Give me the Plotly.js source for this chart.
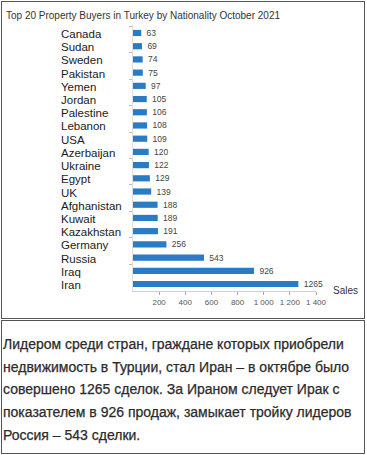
<!DOCTYPE html>
<html>
<head>
<meta charset="utf-8">
<script src="https://cdn.plot.ly/plotly-3.0.1.min.js"></script>
<style>
  html, body { margin: 0; padding: 0; background: #fff; width: 367px; height: 455px; overflow: hidden; }
  #box1 { position: absolute; left: 1px; top: 1px; width: 364px; height: 318px; box-sizing: border-box; border: 1px solid #555; }
  #chart { position: absolute; left: 0; top: 0; width: 362px; height: 316px; }
  #box2 { position: absolute; left: 1px; top: 320px; width: 364px; height: 134px; box-sizing: border-box; border: 1px solid #555;
          font-family: "Liberation Sans", Arial, sans-serif; font-size: 14px; line-height: 22.7px; color: #2b2b2b;
          -webkit-text-stroke: 0.25px #2b2b2b;
          padding: 12px 0 0 1px; }
</style>
</head>
<body>
<div id="box1"><div id="chart"></div></div>
<div id="box2">Лидером среди стран, граждане которых приобрели недвижимость в Турции, стал Иран – в октябре было совершено 1265 сделок. За Ираном следует Ирак с показателем в 926 продаж, замыкает тройку лидеров Россия – 543 сделки.</div>
<script>
const countries = ["Canada","Sudan","Sweden","Pakistan","Yemen","Jordan","Palestine","Lebanon","USA","Azerbaijan","Ukraine","Egypt","UK","Afghanistan","Kuwait","Kazakhstan","Germany","Russia","Iraq","Iran"];
const sales = [63,69,74,75,97,105,106,108,109,120,122,129,139,188,189,191,256,543,926,1265];
const tickValues = [200,400,600,800,1000,1200,1400];
const tickLabels = ["200","400","600","800","1 000","1 200","1 400"];
const chartTitle = "Top 20 Property Buyers in Turkey by Nationality October 2021";
const axisTitle = "Sales";

const W = 362, H = 316;
const mL = 130.8, mR = 48, mT = 21.8, mB = 27;
const plotW = W - mL - mR, plotH = H - mT - mB;

const trace = {
  type: 'bar', orientation: 'h',
  x: sales, y: countries,
  marker: { color: '#2a7bc6' },
  width: 0.47,
  text: sales.map(v => ' ' + v),
  textposition: 'outside',
  constraintext: 'none',
  textfont: { family: 'Liberation Sans, Arial, sans-serif', size: 8.5, color: '#444' },
  cliponaxis: false,
  hoverinfo: 'none'
};

const annotations = countries.map(c => ({
  xref: 'paper', yref: 'y', x: (57 - mL) / plotW, y: c,
  xanchor: 'left', yanchor: 'middle', yshift: -1,
  text: c, showarrow: false,
  font: { family: 'Liberation Sans, Arial, sans-serif', size: 11.5, color: '#1a1a1a' }
}));
annotations.push({
  xref: 'paper', yref: 'paper', x: (329 - mL) / plotW, y: (mT + plotH - 288) / plotH,
  xanchor: 'left', yanchor: 'middle', text: axisTitle, showarrow: false,
  font: { family: 'Liberation Sans, Arial, sans-serif', size: 10, color: '#333' }
});

const layout = {
  width: W, height: H,
  margin: { l: mL, r: mR, t: mT, b: mB, pad: 0 },
  paper_bgcolor: '#fff', plot_bgcolor: '#fff',
  showlegend: false,
  title: {
    text: chartTitle, xref: 'container', yref: 'container',
    x: 4 / W, xanchor: 'left', y: 1 - 13 / H, yanchor: 'middle',
    font: { family: 'Liberation Sans, Arial, sans-serif', size: 10, color: '#333' }
  },
  xaxis: {
    range: [0, 1400], tickvals: tickValues, ticktext: tickLabels,
    showgrid: false, zeroline: false,
    showline: true, linecolor: '#d0d0d0', linewidth: 1,
    ticks: 'outside', ticklen: 3, tickcolor: '#aaa',
    tickfont: { family: 'Liberation Sans, Arial, sans-serif', size: 8, color: '#555' },
    fixedrange: true
  },
  yaxis: {
    autorange: 'reversed', showticklabels: false,
    showgrid: false, zeroline: false,
    showline: true, linecolor: '#e0e0e0', linewidth: 1,
    ticks: 'outside', tickson: 'boundaries', ticklen: 3, tickcolor: '#bbb',
    fixedrange: true
  },
  annotations: annotations,
  bargap: 0.5
};

Plotly.newPlot('chart', [trace], layout, { staticPlot: true, displayModeBar: false });
</script>
</body>
</html>
